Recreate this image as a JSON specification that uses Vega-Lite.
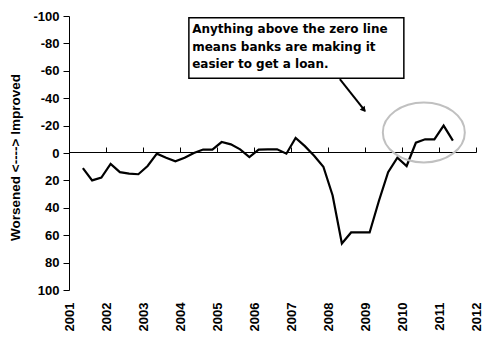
{
  "$schema": "https://vega.github.io/schema/vega-lite/v6.json",
  "width": 407,
  "height": 274,
  "autosize": "none",
  "padding": {"left": 69, "top": 16, "right": 24, "bottom": 59},
  "background": "white",
  "config": {
    "view": {"stroke": null},
    "font": "Liberation Sans",
    "axis": {"labelFont": "Liberation Sans", "titleFont": "Liberation Sans", "labelColor": "black", "titleColor": "black", "domainColor": "black", "tickColor": "black", "grid": false}
  },
  "datasets": {
    "series": [
      {"t": 2001.375, "v": 11}, {"t": 2001.625, "v": 20}, {"t": 2001.875, "v": 18}, {"t": 2002.125, "v": 8},
      {"t": 2002.375, "v": 14}, {"t": 2002.625, "v": 15}, {"t": 2002.875, "v": 15.5}, {"t": 2003.125, "v": 9.5},
      {"t": 2003.375, "v": 0.5}, {"t": 2003.625, "v": 3.5}, {"t": 2003.875, "v": 6}, {"t": 2004.125, "v": 3.5},
      {"t": 2004.375, "v": 0}, {"t": 2004.625, "v": -2.5}, {"t": 2004.875, "v": -2.5}, {"t": 2005.125, "v": -8},
      {"t": 2005.375, "v": -6.3}, {"t": 2005.625, "v": -2.7}, {"t": 2005.875, "v": 3}, {"t": 2006.125, "v": -2.5},
      {"t": 2006.375, "v": -2.6}, {"t": 2006.625, "v": -2.7}, {"t": 2006.875, "v": 0.5}, {"t": 2007.125, "v": -11},
      {"t": 2007.375, "v": -5}, {"t": 2007.625, "v": 2}, {"t": 2007.875, "v": 10}, {"t": 2008.125, "v": 31},
      {"t": 2008.375, "v": 66}, {"t": 2008.625, "v": 58}, {"t": 2008.875, "v": 58}, {"t": 2009.125, "v": 58},
      {"t": 2009.375, "v": 35}, {"t": 2009.625, "v": 14}, {"t": 2009.875, "v": 3.4}, {"t": 2010.125, "v": 9.5},
      {"t": 2010.375, "v": -7.5}, {"t": 2010.625, "v": -10}, {"t": 2010.875, "v": -10}, {"t": 2011.125, "v": -20},
      {"t": 2011.375, "v": -9}
    ],
    "box": [{"t": 2004.24, "t2": 2010.05, "v": -98.8, "v2": -54.5}],
    "notes": [
      {"t": 2004.33, "v": -90.5, "line": "Anything above the zero line"},
      {"t": 2004.33, "v": -77.4, "line": "means banks are making it"},
      {"t": 2004.33, "v": -65, "line": "easier to get a loan."}
    ],
    "arrow": [{"t": 2008.32, "v": -54, "t2": 2009.0, "v2": -30.7}],
    "head": [{"t": 2008.97, "v": -31.5}],
    "circle": [{"t": 2010.59, "v": -15}]
  },
  "resolve": {"axis": {"x": "independent", "y": "independent"}},
  "layer": [
    {
      "data": {"name": "series"},
      "mark": {"type": "line", "color": "black", "strokeWidth": 2.2},
      "encoding": {
        "x": {"field": "t", "type": "quantitative", "scale": {"domain": [2001, 2012], "nice": false, "zero": false},
          "axis": {"orient": "bottom", "title": null, "values": [2001, 2002, 2003, 2004, 2005, 2006, 2007, 2008, 2009, 2010, 2011, 2012], "format": "d", "labelAngle": -90, "labelFontSize": 13, "labelFontWeight": "bold", "domain": false, "ticks": false, "labelPadding": 12}},
        "y": {"field": "v", "type": "quantitative", "scale": {"domain": [-100, 100], "reverse": true, "nice": false, "zero": false},
          "axis": {"title": "Worsened <----> Improved", "titleFontSize": 13.5, "titleFontWeight": "bold", "titlePadding": 10, "titleY": 141, "values": [-100, -80, -60, -40, -20, 0, 20, 40, 60, 80, 100], "labelExpr": "datum.value < 0 ? '-' + abs(datum.value) : '' + datum.value", "labelFontSize": 13, "labelFontWeight": "bold", "tickSize": 6, "labelPadding": 4}}
      }
    },
    {
      "data": {"name": "circle"},
      "mark": {"type": "point", "shape": "M -1 0 A 1 0.73 0 1 1 1 0 A 1 0.73 0 1 1 -1 0 Z", "size": 6724, "filled": false, "stroke": "#c0c0c0", "strokeWidth": 2, "opacity": 1},
      "encoding": {
        "x": {"field": "t", "type": "quantitative", "axis": {"orient": "top", "offset": -136, "title": null, "labels": false, "values": [2001, 2002, 2003, 2004, 2005, 2006, 2007, 2008, 2009, 2010, 2011, 2012], "tickSize": 5, "domainWidth": 1.2}},
        "y": {"field": "v", "type": "quantitative", "axis": null}
      }
    },
    {
      "data": {"name": "box"},
      "mark": {"type": "rect", "fill": "white", "stroke": "black", "strokeWidth": 1.5},
      "encoding": {
        "x": {"field": "t", "type": "quantitative", "axis": null},
        "x2": {"field": "t2"},
        "y": {"field": "v", "type": "quantitative", "axis": null},
        "y2": {"field": "v2"}
      }
    },
    {
      "data": {"name": "notes"},
      "mark": {"type": "text", "align": "left", "baseline": "middle", "font": "DejaVu Sans", "fontSize": 12, "fontWeight": "bold", "color": "black"},
      "encoding": {
        "x": {"field": "t", "type": "quantitative", "axis": null},
        "y": {"field": "v", "type": "quantitative", "axis": null},
        "text": {"field": "line"}
      }
    },
    {
      "data": {"name": "arrow"},
      "mark": {"type": "rule", "color": "black", "strokeWidth": 2},
      "encoding": {
        "x": {"field": "t", "type": "quantitative", "axis": null},
        "x2": {"field": "t2"},
        "y": {"field": "v", "type": "quantitative", "axis": null},
        "y2": {"field": "v2"}
      }
    },
    {
      "data": {"name": "head"},
      "mark": {"type": "point", "shape": "triangle-up", "size": 40, "filled": true, "color": "black", "angle": 142, "opacity": 1},
      "encoding": {
        "x": {"field": "t", "type": "quantitative", "axis": null},
        "y": {"field": "v", "type": "quantitative", "axis": null}
      }
    }
  ]
}
